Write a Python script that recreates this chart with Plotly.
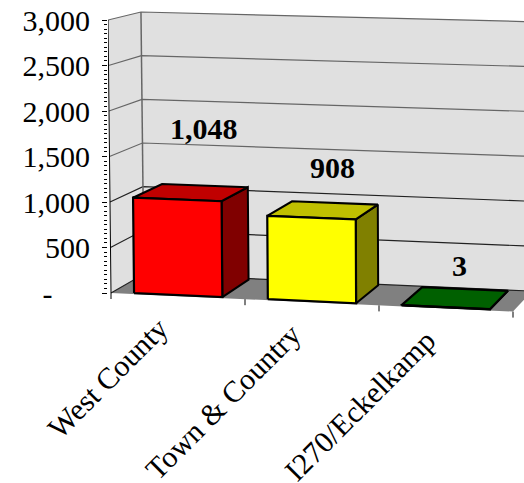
import plotly.graph_objects as go

categories = ["West County", "Town &amp; Country", "I270/Eckelkamp"]
values = [1048, 908, 3]
value_labels = ["1,048", "908", "3"]
front_colors = ["#FF0000", "#FFFF00", "#006000"]
top_colors = ["#C00000", "#C0C000", "#006000"]
side_colors = ["#800000", "#808000", "#004000"]
y_ticks = [0, 500, 1000, 1500, 2000, 2500, 3000]
y_tick_labels = ["-\u00a0\u00a0\u00a0\u00a0\u00a0", "500", "1,000", "1,500", "2,000", "2,500", "3,000"]
minor_ticks = [v for v in range(0, 3001, 50) if v % 500]

W, H = 524, 483
LEFT = 108
PX_CAT = 134.0      # pixels per category along the front edge
PX_VAL = 0.091      # pixels per value unit
X0, Y0 = 111.0, 293.0   # pixel position of the chart origin
FONT = "Liberation Serif"


def project(u, v, d):
    """Oblique projection: category position u, value v, depth d (0 front, 1 back)."""
    x = u + d * (0.246 - 0.0347 * u) - (v / 1000) * (1 - u / 3) / PX_CAT
    drop = (6.2 - 0.82 * v / 1000) * u
    rise = d * (19 - 3.67 * v / 1000 + 0.5 * u)
    return x, v + (rise - drop) / PX_VAL


def poly(points, fill, line="rgba(0,0,0,0)", width=0):
    pts = [project(*p) for p in points] + [project(*points[0])]
    return go.Scatter(x=[p[0] for p in pts], y=[p[1] for p in pts], mode="lines",
                      fill="toself", fillcolor=fill,
                      line=dict(color=line, width=width), hoverinfo="skip")


def path(points, color, width):
    pts = [project(*p) for p in points]
    return go.Scatter(x=[p[0] for p in pts], y=[p[1] for p in pts], mode="lines",
                      line=dict(color=color, width=width), hoverinfo="skip")


traces = []
TOP = y_ticks[-1]
N = len(categories)
WALL = "#E0E0E0"
traces.append(poly([(0, 0, 0), (0, TOP, 0), (0, TOP, 1), (0, 0, 1)], WALL))
traces.append(poly([(0, 0, 1), (0, TOP, 1), (N, TOP, 1), (N, 0, 1)], WALL))
traces.append(poly([(0, 0, 0), (0, 0, 1), (N, 0, 1), (N, 0, 0)], "#808080"))

for v in y_ticks:
    shade = "#666666" if v >= 1500 else "#222222"
    traces.append(path([(0, v, 0), (0, v, 1), (N, v, 1)], shade, 1.2))
traces.append(path([(0, 0, 1), (0, TOP, 1)], "#666666", 1.5))
traces.append(path([(0, 0, 0), (0, TOP, 0)], "#000000", 1))

# tick marks along the slanted category edge
for i in range(N + 1):
    a = project(i, 0, 0)
    traces.append(go.Scatter(x=[a[0], a[0]], y=[a[1], a[1] - 6 / PX_VAL], mode="lines",
                             line=dict(color="#000000", width=1), hoverinfo="skip"))

BAR_LO, BAR_HI = 0.16, 0.82
D_F, D_B = 0.05, 0.95
for i, v in enumerate(values):
    a, b = i + BAR_LO, i + BAR_HI
    traces.append(poly([(b, 0, D_F), (b, v, D_F), (b, v, D_B), (b, 0, D_B)], side_colors[i], "#000000", 2))
    traces.append(poly([(a, v, D_F), (a, v, D_B), (b, v, D_B), (b, v, D_F)], top_colors[i], "#000000", 2.2))
    traces.append(poly([(a, 0, D_F), (a, v, D_F), (b, v, D_F), (b, 0, D_F)], front_colors[i], "#000000", 2.2))

annotations = []
label_shift = [(27, 71), (21, 50), (14, 42)]
for i, v in enumerate(values):
    x, y = project(i + (BAR_LO + BAR_HI) / 2, v, D_F)
    annotations.append(dict(x=x, y=y, text=f"<b>{value_labels[i]}</b>", showarrow=False,
                            xshift=label_shift[i][0], yshift=label_shift[i][1],
                            xanchor="center", yanchor="middle",
                            font=dict(family=FONT, size=30, color="#000000")))
for i, c in enumerate(categories):
    x, y = project(i + 0.45, 0, 0)
    annotations.append(dict(x=x, y=y, text=c, showarrow=False, textangle=-45,
                            xanchor="right", yanchor="top", yshift=-13, xshift=5,
                            font=dict(family=FONT, size=30, color="#000000")))

fig = go.Figure(traces)
fig.update_layout(
    width=W, height=H, margin=dict(l=LEFT, r=0, t=0, b=0),
    paper_bgcolor="#FFFFFF", plot_bgcolor="#FFFFFF", showlegend=False,
    annotations=annotations,
    xaxis=dict(range=[(LEFT - X0) / PX_CAT, (W - X0) / PX_CAT], visible=False),
    yaxis=dict(range=[(Y0 - H) / PX_VAL, Y0 / PX_VAL], tickmode="array",
               tickvals=y_ticks, ticktext=y_tick_labels, ticks="outside", ticklen=5,
               tickcolor="#000000", showgrid=False, zeroline=False, showline=False,
               ticklabelstandoff=6,
               tickfont=dict(family=FONT, size=30, color="#000000"),
               minor=dict(tickmode="array", tickvals=minor_ticks, ticks="outside",
                          ticklen=3, tickcolor="#000000", showgrid=False)),
)
fig.write_html("out.html", config={"displayModeBar": False},
               post_script="document.body.style.margin='0';document.body.style.overflow='hidden';")
